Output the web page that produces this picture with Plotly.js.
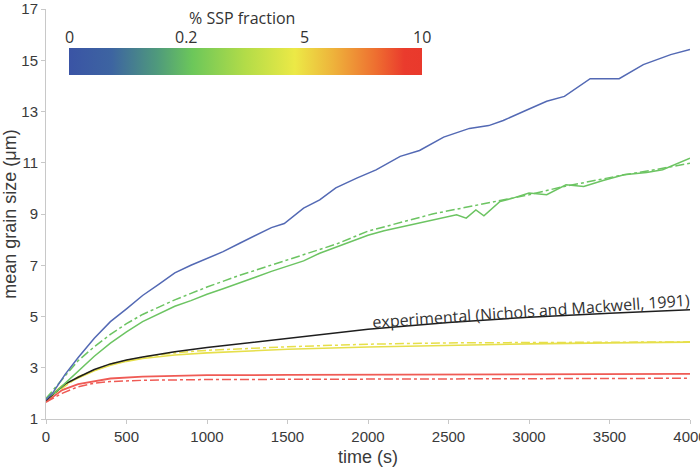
<!DOCTYPE html>
<html>
<head>
<meta charset="utf-8">
<script src="https://cdn.plot.ly/plotly-3.0.1.min.js"></script>
<style>html,body{margin:0;padding:0;background:#fff;}#chart{width:700px;height:468px;}</style>
</head>
<body>
<div id="chart"></div>
<script>
// ---- data ----
const blueT = [0,40,120,200,300,400,500,600,700,800,900,1000,1100,1200,1300,1400,1480,1600,1700,1800,1930,2050,2200,2320,2470,2630,2750,2840,2990,3110,3220,3380,3560,3710,3880,4000];
const blueY = [1.75,2.0,2.75,3.4,4.15,4.8,5.3,5.82,6.25,6.7,7.0,7.25,7.53,7.85,8.15,8.47,8.63,9.23,9.55,10.02,10.4,10.72,11.25,11.48,12.0,12.34,12.45,12.65,13.07,13.4,13.59,14.28,14.28,14.83,15.22,15.42];

const greenT = [0,60,120,200,300,400,500,600,700,800,900,1000,1100,1200,1300,1400,1500,1600,1700,1800,1900,2000,2100,2220,2330,2430,2550,2610,2670,2720,2820,2900,3000,3110,3230,3340,3460,3590,3730,3830,3920,4000];
const greenY = [1.8,2.05,2.4,2.88,3.45,3.96,4.4,4.8,5.1,5.4,5.62,5.87,6.08,6.32,6.53,6.76,6.96,7.17,7.47,7.7,7.92,8.17,8.35,8.51,8.65,8.8,8.97,8.84,9.16,8.93,9.49,9.62,9.82,9.75,10.14,10.07,10.31,10.53,10.62,10.73,10.98,11.18];

const greenModelT = [0,80,200,300,400,500,600,800,1000,1200,1400,1600,1800,2000,2200,2400,2600,2840,3000,3200,3400,3590,3800,4000];
const greenModelY = [1.8,2.4,3.28,3.82,4.3,4.72,5.08,5.65,6.15,6.6,7.0,7.4,7.82,8.33,8.68,9.0,9.25,9.55,9.75,10.05,10.3,10.53,10.75,10.98];

const expT = [0,120,200,300,400,500,600,800,1000,1200,1500,2000,2500,3000,3500,4000];
const expY = [1.72,2.37,2.63,2.93,3.15,3.3,3.42,3.62,3.79,3.93,4.15,4.5,4.77,4.97,5.13,5.26];

const yellowT = [0,100,200,300,400,500,600,800,1000,1200,1500,2000,2500,3000,3500,4000];
const yellowY = [1.75,2.3,2.6,2.88,3.1,3.25,3.36,3.5,3.58,3.64,3.72,3.81,3.88,3.93,3.97,4.0];
const yellowModelT = [0,200,400,600,800,1000,1500,2000,2500,3000,3500,4000];
const yellowModelY = [1.75,2.65,3.15,3.42,3.58,3.68,3.82,3.92,3.97,3.99,4.0,4.01];

const redT = [0,100,200,300,400,600,800,1000,1500,2000,3000,4000];
const redY = [1.66,2.13,2.36,2.48,2.58,2.65,2.69,2.71,2.72,2.73,2.75,2.76];
const redModelT = [0,100,200,300,400,600,1000,2000,3000,4000];
const redModelY = [1.66,2.0,2.26,2.4,2.46,2.51,2.54,2.56,2.58,2.59];

const xTicks = [0,500,1000,1500,2000,2500,3000,3500,4000];
const yTicks = [1,3,5,7,9,11,13,15,17];
const cbTickLabels = ['0','0.2','5','10'];
const cbTitle = '% SSP fraction';
const expLabel = 'experimental (Nichols and Mackwell, 1991)';

// ---- styles ----
const W = 700, H = 468;
const M = {l:46, r:10, t:9, b:49, autoexpand:false};
const C = {blue:'#5369b4', green:'#6cc462', yellow:'#e6df4a', red:'#ef5b55', black:'#1e1e1e'};
const cscale = [[0,'#3a54a5'],[0.12,'#3d64a1'],[0.25,'#4f9a7c'],[0.35,'#6cc75a'],[0.5,'#b3dc48'],[0.64,'#ece946'],[0.75,'#eeb23b'],[0.87,'#ee6e30'],[0.95,'#ea3b2d'],[1,'#e9392c']];

function line(x, y, color, dash, width) {
  return {x:x, y:y, type:'scatter', mode:'lines', showlegend:false, hoverinfo:'skip',
          line:{color:color, width:width||1.5, dash:dash||'solid', shape:'linear'}};
}

const traces = [
  line(redModelT, redModelY, C.red, 'dashdot', 1.5),
  line(redT, redY, C.red, 'solid', 1.8),
  line(yellowModelT, yellowModelY, C.yellow, 'dashdot', 1.5),
  line(yellowT, yellowY, C.yellow, 'solid', 1.6),
  line(expT, expY, C.black, 'solid', 1.5),
  line(greenModelT, greenModelY, C.green, 'dashdot', 1.5),
  line(greenT, greenY, C.green, 'solid', 1.5),
  line(blueT, blueY, C.blue, 'solid', 1.5)
];

// colour bar (horizontal, at top)
const cbX0 = 69, cbX1 = 422, cbTop = 48, cbThick = 27, cbShift = 6;
traces.push({
  x:[null], y:[null], type:'scatter', mode:'markers', showlegend:false, hoverinfo:'skip',
  marker:{color:[0], cmin:0, cmax:1, colorscale:cscale, showscale:true,
    colorbar:{orientation:'h', thickness:cbThick, thicknessmode:'pixels',
      len:cbX1-cbX0, lenmode:'pixels', xref:'container', yref:'container',
      x:(cbX0+cbShift)/W, xanchor:'left', y:1-cbTop/H, yanchor:'top',
      xpad:0, ypad:0, outlinewidth:0, ticks:'', showticklabels:false}}
});

const pw = W - M.l - M.r, ph = H - M.t - M.b;
const px2paper = p => (p - M.l)/pw;
const py2paper = p => (H - M.b - p)/ph;

const annotations = cbTickLabels.map((t, i) => ({
  text:t, xref:'paper', yref:'paper', showarrow:false,
  x:px2paper(cbX0 + (cbX1-cbX0)*i/(cbTickLabels.length-1)), y:py2paper(37),
  xanchor:'center', yanchor:'middle',
  font:{family:'Open Sans, sans-serif', size:16, color:'#333'}
}));
annotations.push({
  text:cbTitle, xref:'paper', yref:'paper', showarrow:false,
  x:px2paper(242), y:py2paper(18), xanchor:'center', yanchor:'middle',
  font:{family:'Open Sans, sans-serif', size:16, color:'#333'}
});
annotations.push({
  text:expLabel, xref:'x', yref:'y', x:3012, y:5.22, showarrow:false,
  textangle:-4, xanchor:'center', yanchor:'middle',
  font:{family:'Open Sans, sans-serif', size:16, color:'#333'}
});

const axisCommon = {showgrid:false, zeroline:false, showline:true, linecolor:'#c8c8c8', linewidth:1,
  ticks:'outside', ticklen:4, tickcolor:'#c8c8c8', ticklabeloverflow:'allow',
  tickfont:{family:'Liberation Sans, Arial, sans-serif', size:15, color:'#3a3a3a'}};

const layout = {
  width:W, height:H, margin:M, paper_bgcolor:'#fff', plot_bgcolor:'#fff', showlegend:false,
  xaxis:Object.assign({}, axisCommon, {range:[0,4000], tickvals:xTicks,
    title:{text:'time (s)', font:{family:'Liberation Sans, Arial, sans-serif', size:18, color:'#3a3a3a'}, standoff:6}}),
  yaxis:Object.assign({}, axisCommon, {range:[1,17], tickvals:yTicks,
    title:{text:'mean grain size (μm)', font:{family:'Liberation Sans, Arial, sans-serif', size:18, color:'#3a3a3a'}, standoff:4}}),
  annotations:annotations
};

Plotly.newPlot('chart', traces, layout, {staticPlot:true, displayModeBar:false});
</script>
</body>
</html>
